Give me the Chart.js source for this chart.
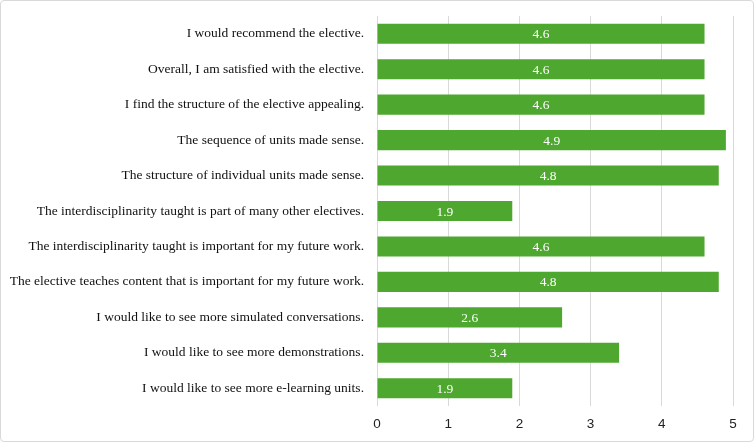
<!DOCTYPE html>
<html>
<head>
<meta charset="utf-8">
<script src="https://cdn.jsdelivr.net/npm/chart.js@4/dist/chart.umd.min.js"></script>
<style>
  html, body { margin:0; padding:0; background:#fff; }
  .wrap { position:relative; width:754px; height:442px; }
  .frame { position:absolute; left:0; top:0; width:752px; height:440px; border:1px solid #d9d9d9; border-radius:4px; pointer-events:none; }
  canvas { position:absolute; left:0; top:0; }
</style>
</head>
<body>
<div class="wrap">
  <canvas id="chart" width="754" height="442"></canvas>
  <div class="frame"></div>
</div>
<script>
const categories = [
  "I would recommend the elective.",
  "Overall, I am satisfied with the elective.",
  "I find the structure of the elective appealing.",
  "The sequence of units made sense.",
  "The structure of individual units made sense.",
  "The interdisciplinarity taught is part of many other electives.",
  "The interdisciplinarity taught is important for my future work.",
  "The elective teaches content that is important for my future work.",
  "I would like to see more simulated conversations.",
  "I would like to see more demonstrations.",
  "I would like to see more e-learning units."
];
const values = [4.6, 4.6, 4.6, 4.9, 4.8, 1.9, 4.6, 4.8, 2.6, 3.4, 1.9];
const xTicks = [0, 1, 2, 3, 4, 5];

const serif = "'Liberation Serif', 'DejaVu Serif', serif";
const sans = "'Liberation Sans', Arial, sans-serif";

// etiquetas de valor dentro de la barra
const valueLabels = {
  id: "valueLabels",
  afterDatasetsDraw(chart){
    const ctx = chart.ctx;
    const meta = chart.getDatasetMeta(0);
    ctx.save();
    ctx.fillStyle = "#ffffff";
    ctx.font = "13.5px " + serif;
    ctx.textAlign = "center";
    ctx.textBaseline = "middle";
    meta.data.forEach((bar, i) => {
      const x = (bar.x + bar.base) / 2;
      ctx.fillText(values[i].toFixed(1), x, bar.y + 1);
    });
    ctx.restore();
  }
};

new Chart(document.getElementById("chart"), {
  type: "bar",
  data: {
    labels: categories,
    datasets: [{
      data: values,
      backgroundColor: "#4ea72e",
      borderWidth: 0,
      barPercentage: 0.76,
      categoryPercentage: 0.745
    }]
  },
  options: {
    indexAxis: "y",
    responsive: false,
    animation: false,
    layout: { padding: { top: 16, right: 21, bottom: 0, left: 0 } },
    plugins: {
      legend: { display: false },
      tooltip: { enabled: false }
    },
    scales: {
      x: {
        min: 0,
        max: 5,
        afterBuildTicks: (s) => { s.ticks = xTicks.map(v => ({ value: v })); },
        grid: { color: "#d9d9d9", lineWidth: 1, drawTicks: true, tickLength: 0 },
        border: { display: false },
        ticks: { color: "#222", font: { family: sans, size: 13.5 }, padding: 10 },
        afterFit: (s) => { s.height = 36; }
      },
      y: {
        grid: { display: false },
        border: { display: false },
        ticks: { color: "#111", font: { family: serif, size: 13.5 }, padding: 5, autoSkip: false },
        afterFit: (s) => { s.width = 377; }
      }
    }
  },
  plugins: [valueLabels]
});
</script>
</body>
</html>
